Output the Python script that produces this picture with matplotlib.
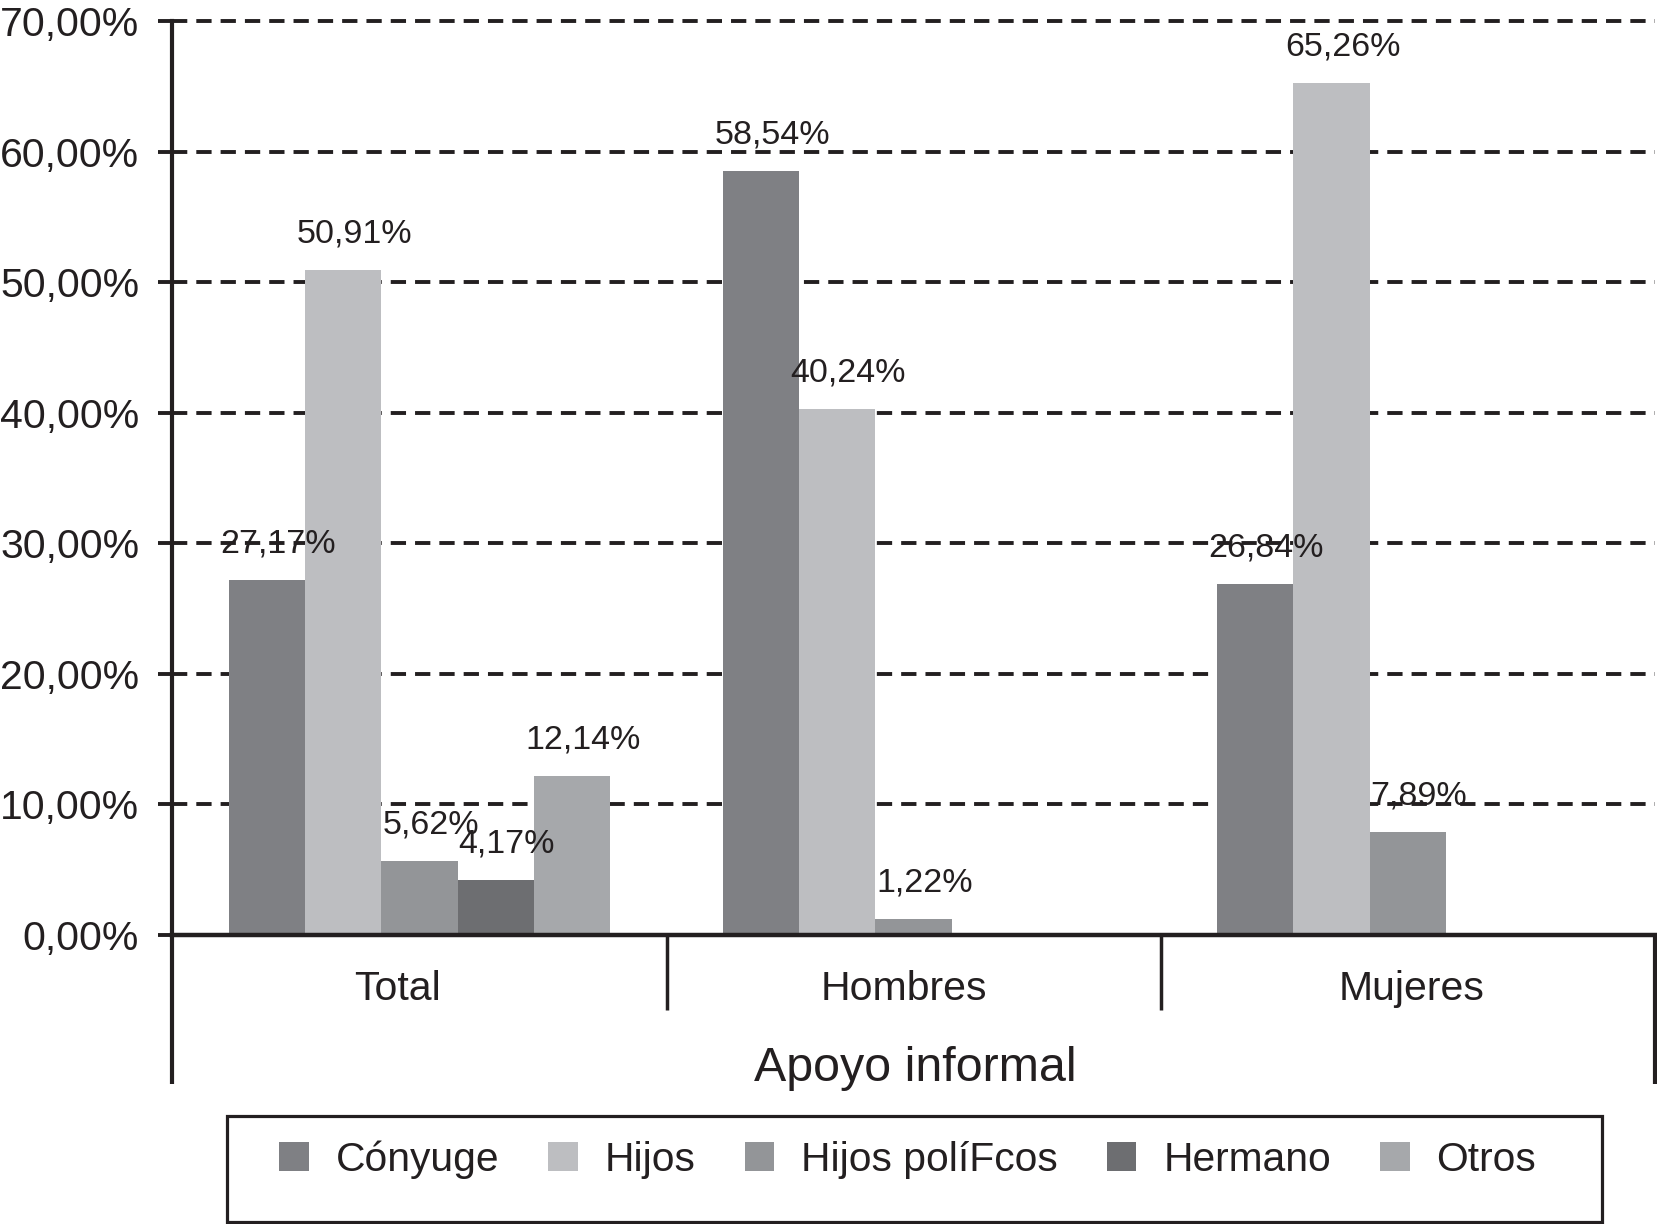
import matplotlib
matplotlib.use('Agg')
import matplotlib.pyplot as plt
import matplotlib.transforms as mtransforms
from matplotlib.patches import Patch, Rectangle
from matplotlib.lines import Line2D

plt.rcParams['font.family'] = ['Liberation Sans', 'DejaVu Sans']
plt.rcParams['lines.scale_dashes'] = False

# ---- data ----
categories = ['Total', 'Hombres', 'Mujeres']
series_names = ['Cónyuge', 'Hijos', 'Hijos políFcos', 'Hermano', 'Otros']
conyuge = [27.17, 58.54, 26.84]
hijos = [50.91, 40.24, 65.26]
hijos_politicos = [5.62, 1.22, 7.89]
hermano = [4.17, None, None]
otros = [12.14, None, None]
series_values = [conyuge, hijos, hijos_politicos, hermano, otros]
series_colors = ['#7f8084', '#bdbec1', '#939598', '#6d6e71', '#a6a8ab']
yticks = [0, 10, 20, 30, 40, 50, 60, 70]
ytick_labels = ['0,00%', '10,00%', '20,00%', '30,00%', '40,00%', '50,00%', '60,00%', '70,00%']
xlabel = 'Apoyo informal'

fig = plt.figure(figsize=(16.58, 12.24), dpi=100)
ax = fig.add_axes([0.104, 0.2364, 0.894, 0.7464])

bar_w = 0.1542
n = len(series_values)
for i, (vals, col) in enumerate(zip(series_values, series_colors)):
    for g, v in enumerate(vals):
        if v is None:
            continue
        x = g + (i - (n - 1) / 2) * bar_w
        ax.bar(x, v, width=bar_w, color=col, zorder=2, linewidth=0)
        ax.annotate(f"{v:.2f}".replace('.', ',') + '%', (x, v), xytext=(8, 26),
                    textcoords='offset points', ha='center', va='center',
                    fontsize=24.5, color='#231f20', zorder=4)

ax.set_xlim(-0.5, 2.5)
ax.set_ylim(0, 70)
ax.set_yticks(yticks)
ax.set_yticklabels(ytick_labels)
ax.set_xticks([])
ax.tick_params(axis='y', length=10, width=2.8, pad=14, labelsize=29.5,
               direction='out', colors='#231f20')

# dashed gridlines
for yv in yticks[1:]:
    ax.add_line(Line2D([0, 1], [yv, yv], transform=ax.get_yaxis_transform(),
                       color='#231f20', lw=2.8, dashes=(11, 6.5), zorder=1,
                       clip_on=False))

for s in ['top', 'right']:
    ax.spines[s].set_visible(False)
ax.spines['left'].set_linewidth(3)
ax.spines['bottom'].set_linewidth(3.2)
ax.spines['left'].set_color('#231f20')
ax.spines['bottom'].set_color('#231f20')
ax.spines['bottom'].set_zorder(5)

# extension lines below the axis
ax.plot([0, 0], [0, -0.163], transform=ax.transAxes, clip_on=False,
        color='#231f20', lw=3, solid_capstyle='butt')
ax.plot([1, 1], [0, -0.163], transform=ax.transAxes, clip_on=False,
        color='#231f20', lw=3, solid_capstyle='butt')
blend = mtransforms.blended_transform_factory(ax.transData, ax.transAxes)
for xs in [0.5, 1.5]:
    ax.plot([xs, xs], [0, -0.082], transform=blend, clip_on=False,
            color='#231f20', lw=2.5, solid_capstyle='butt')

label_shift = [-0.045, -0.019, 0.008]
for g, c in enumerate(categories):
    ax.text(g + label_shift[g], -0.059, c, transform=blend, ha='center', va='center',
            fontsize=29.5, color='#231f20')

ax.text(0.501, -0.147, xlabel, transform=ax.transAxes, ha='center', va='center',
        fontsize=34.8, color='#231f20')

# legend
handles = [Patch(facecolor=c, edgecolor='none') for c in series_colors]
fig.legend(handles, series_names, loc='center', bbox_to_anchor=(0.5475, 0.0525),
           ncol=5, frameon=False, fontsize=29.3, handlelength=0.73,
           handleheight=0.73, handletextpad=0.66, columnspacing=1.2,
           labelcolor='#231f20')
fig.add_artist(Rectangle((0.1371, 0.0015), 0.829, 0.0866, transform=fig.transFigure,
                         fill=False, edgecolor='#231f20', lw=2.3))

fig.savefig('out.png', dpi=100)
